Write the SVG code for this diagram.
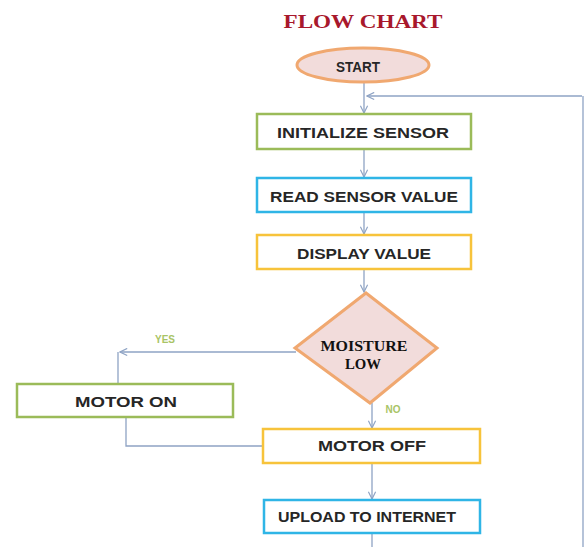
<svg xmlns="http://www.w3.org/2000/svg" width="586" height="547" viewBox="0 0 586 547">
<defs>
<marker id="arr" viewBox="0 0 10 10" refX="9" refY="5" markerWidth="9" markerHeight="9" orient="auto" markerUnits="userSpaceOnUse">
<path d="M1,1 L9,5 L1,9" fill="none" stroke="#8ea3c4" stroke-width="1.3"/>
</marker>
</defs>
<style>
.box{fill:#ffffff;stroke-width:2.5}
.g{stroke:#9bbb59}
.c{stroke:#2fb5e6}
.y{stroke:#f7c33b}
.lbl{font-family:"Liberation Sans",Arial,sans-serif;font-weight:bold;font-size:14px;fill:#262626;text-anchor:middle}
.ser{font-family:"Liberation Serif","Times New Roman",serif;font-weight:bold;text-anchor:middle}
.con{fill:none;stroke:#8ea3c4;stroke-width:1.3}
.small{font-family:"Liberation Sans",Arial,sans-serif;font-weight:bold;font-size:10px;text-anchor:middle}
</style>
<rect width="586" height="547" fill="#ffffff"/>
<text class="ser" x="363" y="28" font-size="18" fill="#a8182c" textLength="159" lengthAdjust="spacingAndGlyphs">FLOW CHART</text>

<g id="connectors">
<path class="con" d="M364,82 V113" marker-end="url(#arr)"/>
<path class="con" d="M582,96 H367" stroke="#9aa3ad" marker-end="url(#arr)"/>
<path class="con" d="M583,96 V547" stroke="#b0b6bb" stroke-width="2"/>
<path class="con" d="M364,149 V177" marker-end="url(#arr)"/>
<path class="con" d="M364,212 V234" marker-end="url(#arr)"/>
<path class="con" d="M364,269 V292" marker-end="url(#arr)"/>
<path class="con" d="M296,352 H120" marker-end="url(#arr)"/>
<path class="con" d="M118,352 V384"/>
<path class="con" d="M126,417 V446 H262"/>
<path class="con" d="M372,403 V428" marker-end="url(#arr)"/>
<path class="con" d="M372,463 V499" marker-end="url(#arr)"/>
<path class="con" d="M372,533 V547"/>
<text class="small" x="165" y="343" fill="#a9c466">YES</text>
<text class="small" x="393" y="413" fill="#a9c466">NO</text>
</g>

<g id="start">
<ellipse cx="363" cy="65" rx="66" ry="17" fill="#f2dcdb" stroke="#f0a870" stroke-width="3"/>
<text class="lbl" x="358" y="72" textLength="44" lengthAdjust="spacingAndGlyphs">START</text>
</g>

<g id="init">
<rect class="box g" x="257" y="114" width="214" height="35"/>
<text class="lbl" x="363" y="138" textLength="172" lengthAdjust="spacingAndGlyphs">INITIALIZE SENSOR</text>
</g>

<g id="read">
<rect class="box c" x="257" y="178" width="214" height="34"/>
<text class="lbl" x="364" y="202" textLength="188" lengthAdjust="spacingAndGlyphs">READ SENSOR VALUE</text>
</g>

<g id="display">
<rect class="box y" x="257" y="235" width="214" height="34"/>
<text class="lbl" x="364" y="259" textLength="134" lengthAdjust="spacingAndGlyphs">DISPLAY VALUE</text>
</g>

<g id="decision">
<polygon points="366,293 437,348 370,403 295,348" fill="#f2dcdb" stroke="#f0a870" stroke-width="3"/>
<text class="ser" x="364" y="351" font-size="15" fill="#111" textLength="87" lengthAdjust="spacingAndGlyphs">MOISTURE</text>
<text class="ser" x="363" y="369" font-size="15" fill="#111" textLength="36" lengthAdjust="spacingAndGlyphs">LOW</text>
</g>

<g id="motoron">
<rect class="box g" x="17" y="384" width="216" height="33"/>
<text class="lbl" x="126" y="407" textLength="102" lengthAdjust="spacingAndGlyphs">MOTOR ON</text>
</g>

<g id="motoroff">
<rect class="box y" x="263" y="429" width="217" height="34"/>
<text class="lbl" x="372" y="451" textLength="108" lengthAdjust="spacingAndGlyphs">MOTOR OFF</text>
</g>

<g id="upload">
<rect class="box c" x="264" y="500" width="216" height="33"/>
<text class="lbl" x="367" y="522" font-size="13" textLength="178" lengthAdjust="spacingAndGlyphs">UPLOAD TO INTERNET</text>
</g>
</svg>
